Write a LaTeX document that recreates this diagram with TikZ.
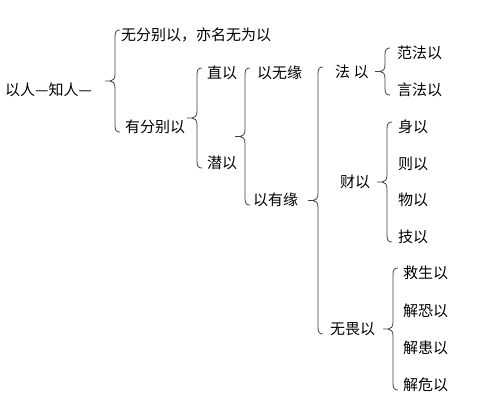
\documentclass[tikz,border=0pt]{standalone}
\usepackage{fontspec}
\setmainfont{Noto Sans CJK SC}
\usetikzlibrary{calc}

\tikzset{
  item/.style={anchor=west,inner sep=0pt,font=\fontsize{15}{18}\selectfont},
  brc/.style={draw=black!75,line width=0.8pt}
}
% brace from first to last child, spine at x = #3
\newcommand\grp[3]{%
  \draw[brc] let \p1=(#1.west), \p2=(#2.west), \p3=(#3,0),
      \p4=($(#1.west)!0.5!(#2.west)$) in
    (\x3+5pt,\y1+5pt) .. controls (\x3+1pt,\y1+5pt) and (\x3,\y1+3pt) .. (\x3,\y1-2pt)
    -- (\x3,\y4+7pt) .. controls (\x3,\y4+2pt) and (\x3-2pt,\y4) .. (\x3-5pt,\y4)
    -- (\x3-10pt,\y4)
    (\x3-5pt,\y4) .. controls (\x3-2pt,\y4) and (\x3,\y4-2pt) .. (\x3,\y4-7pt)
    -- (\x3,\y2+2pt) .. controls (\x3,\y2-3pt) and (\x3+1pt,\y2-5pt) .. (\x3+5pt,\y2-5pt);}

\begin{document}
\begin{tikzpicture}[x=1pt,y=-1pt]
\useasboundingbox (0,0) rectangle (501,413);

\node[item] (root) at (5,90) {以人—知人—};
\node[item] (wufen) at (121,35) {无分别以，亦名无为以};
\node[item] (youfen) at (125,127) {有分别以};
\node[item] (zhi) at (207,73) {直以};
\node[item] (qian) at (207,163) {潜以};
\node[item] (wuyuan) at (257,73) {以无缘};
\node[item] (youyuan) at (253,200) {以有缘};
\node[item] (fa) at (335,72) {法 以};
\node[item] (cai) at (340,182) {财以};
\node[item] (wuwei) at (330,329) {无畏以};

\node[item] (fanfa) at (397,53) {范法以};
\node[item] (yanfa) at (397,90) {言法以};
\node[item] (shen) at (398,127) {身以};
\node[item] (ze) at (398,164) {则以};
\node[item] (wu) at (398,200) {物以};
\node[item] (ji) at (398,237) {技以};
\node[item] (jiusheng) at (403,273) {救生以};
\node[item] (jiekong) at (403,311) {解恐以};
\node[item] (jiehuan) at (403,348) {解患以};
\node[item] (jiewei) at (403,385) {解危以};

\grp{wufen}{youfen}{115}
\grp{zhi}{qian}{197}
\grp{wuyuan}{youyuan}{245}
\grp{fa}{wuwei}{318}
\grp{fanfa}{yanfa}{385}
\grp{shen}{ji}{387}
\grp{jiusheng}{jiewei}{393}
\end{tikzpicture}
\end{document}
